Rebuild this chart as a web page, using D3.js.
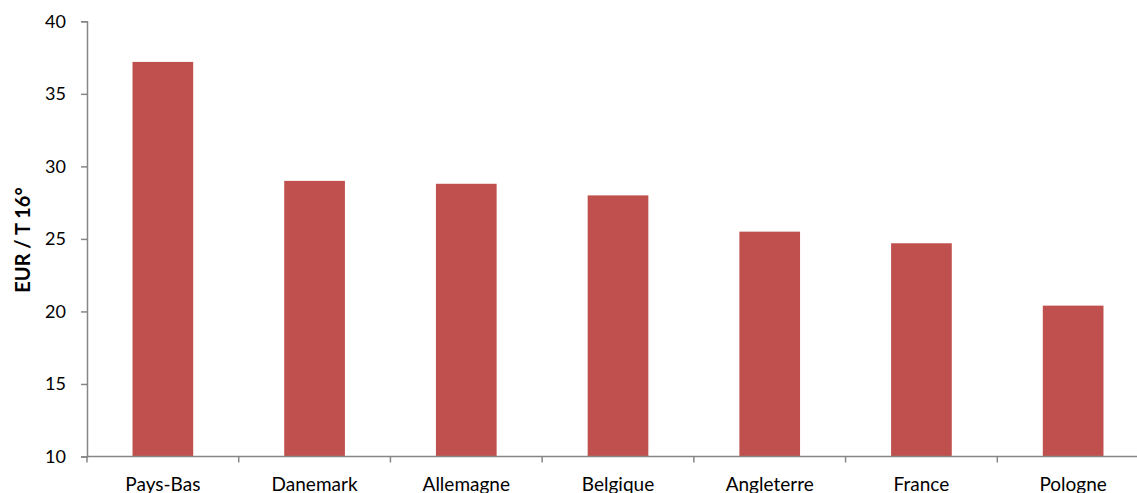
<!DOCTYPE html>
<html><head><meta charset="utf-8">
<script src="https://cdn.jsdelivr.net/npm/d3@7"></script>
<style>body{margin:0;background:#fff}svg{display:block}</style>
</head><body>
<svg id="c" width="1137" height="493"></svg>
<script>
const categories = ["Pays-Bas","Danemark","Allemagne","Belgique","Angleterre","France","Pologne"];
const values = [37.2, 29.0, 28.8, 28.0, 25.5, 24.7, 20.4];
const yTicks = [10,15,20,25,30,35,40];
const yTitle = "EUR / T 16°";

const svg = d3.select("#c");
const m = {left:87, top:21.3, bottom:456.5, right:1149};
const font = "Lato, 'Open Sans', sans-serif";
const axisColor = "#868686";

const x = d3.scaleBand().domain(categories).range([m.left, m.right]).paddingInner(0.6).paddingOuter(0.3);
const y = d3.scaleLinear().domain([10,40]).range([m.bottom, m.top]);

svg.selectAll("rect.bar").data(values).join("rect")
  .attr("class","bar")
  .attr("x",(d,i)=>x(categories[i]))
  .attr("width",x.bandwidth())
  .attr("y",d=>y(d))
  .attr("height",d=>y(10)-y(d))
  .attr("fill","#C0504D");

// y axis
const ya = svg.append("g").attr("transform",`translate(${m.left},0)`)
  .call(d3.axisLeft(y).tickValues(yTicks).tickSize(6).tickPadding(15));
ya.select(".domain").attr("stroke",axisColor).attr("stroke-width",1.5);
ya.selectAll(".tick line").attr("stroke",axisColor).attr("stroke-width",1.5);
ya.selectAll("text").attr("font-family",font).attr("font-size",18).attr("fill","#000");

// x axis
const step = x.step();
const bounds = d3.range(categories.length+1).map(i=>m.left+i*step);
const xa = svg.append("g");
xa.append("line").attr("x1",m.left).attr("x2",m.right).attr("y1",y(10)).attr("y2",y(10))
  .attr("stroke",axisColor).attr("stroke-width",1.5);
xa.selectAll("line.t").data(bounds).join("line").attr("class","t")
  .attr("x1",d=>d).attr("x2",d=>d).attr("y1",y(10)).attr("y2",y(10)+6)
  .attr("stroke",axisColor).attr("stroke-width",1.5);
xa.selectAll("text").data(categories).join("text")
  .attr("x",d=>x(d)+x.bandwidth()/2).attr("y",491)
  .attr("text-anchor","middle").attr("font-family",font).attr("font-size",19).attr("fill","#000")
  .text(d=>d);

svg.append("text").attr("transform",`translate(30,240) rotate(-90)`)
  .attr("text-anchor","middle").attr("font-family",font).attr("font-size",20).attr("font-weight","bold")
  .text(yTitle);
</script>
</body></html>
